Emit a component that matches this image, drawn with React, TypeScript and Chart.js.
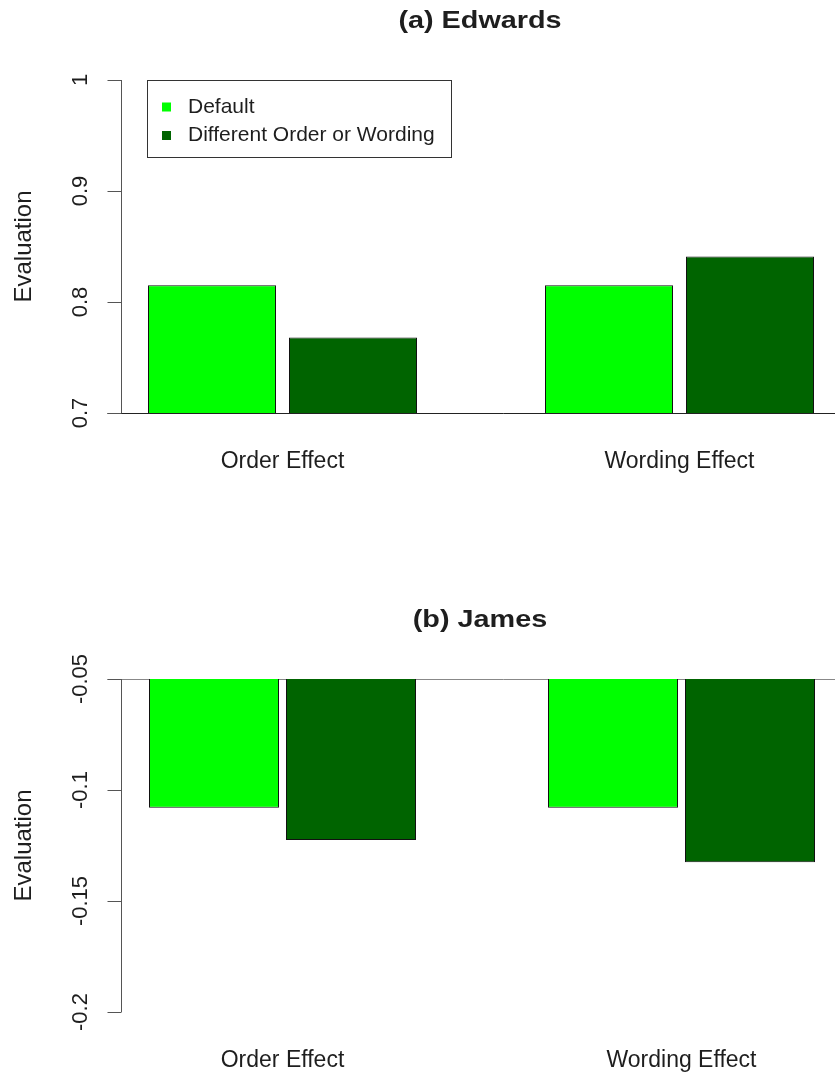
import React, { useEffect, useRef } from "react";
import { Chart, registerables } from "chart.js";

Chart.register(...registerables);

// ---------- data ----------
const categories = ["Order Effect", "Wording Effect"];
const seriesNames = ["Default", "Different Order or Wording"];
const seriesColors = ["#00FF00", "#006400"];

const edwardsDefault = [0.815, 0.815];
const edwardsDifferent = [0.768, 0.841];
const edwardsTicks = [0.7, 0.8, 0.9, 1];
const edwardsTickLabels = ["0.7", "0.8", "0.9", "1"];

const jamesDefault = [-0.108, -0.108];
const jamesDifferent = [-0.1225, -0.1325];
const jamesTicks = [-0.05, -0.1, -0.15, -0.2];
const jamesTickLabels = ["-0.05", "-0.1", "-0.15", "-0.2"];

const yAxisTitle = "Evaluation";

// ---------- styling ----------
const CANVAS_W = 900;
const FONT = "'Liberation Sans', Arial, Helvetica, sans-serif";
const TEXT_COLOR = "#1e1e1e";

const decorPlugin = {
  id: "decor",
  beforeDatasetsDraw(chart: any, _args: any, opts: any) {
    const ctx = chart.ctx;
    const ys = chart.scales.y;
    const yb = Math.round(ys.getPixelForValue(opts.baseValue)) + 0.5;
    ctx.save();
    ctx.strokeStyle = opts.baseColor;
    ctx.lineWidth = 1;
    ctx.beginPath();
    ctx.moveTo(opts.axisX - opts.tickLen, yb);
    ctx.lineTo(chart.width, yb);
    ctx.stroke();
    ctx.restore();
  },
  afterDraw(chart: any, _args: any, opts: any) {
    const ctx = chart.ctx;
    const xs = chart.scales.x;
    const ys = chart.scales.y;
    const area = chart.chartArea;
    ctx.save();

    // y axis line + ticks
    ctx.strokeStyle = "#555";
    ctx.lineWidth = 1;
    const ticks: number[] = opts.ticks;
    const py = ticks.map((t) => ys.getPixelForValue(t));
    ctx.beginPath();
    ctx.moveTo(opts.axisX, Math.min(...py));
    ctx.lineTo(opts.axisX, Math.max(...py));
    py.forEach((p) => {
      const yy = Math.round(p) + 0.5;
      ctx.moveTo(opts.axisX - opts.tickLen, yy);
      ctx.lineTo(opts.axisX, yy);
    });
    ctx.stroke();

    // tick labels (rotated)
    ctx.fillStyle = TEXT_COLOR;
    ctx.font = `22px ${FONT}`;
    ctx.textAlign = "center";
    ctx.textBaseline = "middle";
    py.forEach((p, i) => {
      ctx.save();
      ctx.translate(opts.tickLabelX, p);
      ctx.rotate(-Math.PI / 2);
      ctx.fillText(opts.tickLabels[i], 0, 0);
      ctx.restore();
    });

    // axis title
    ctx.font = `24px ${FONT}`;
    ctx.save();
    ctx.translate(opts.axisTitleX, (area.top + area.bottom) / 2);
    ctx.rotate(-Math.PI / 2);
    ctx.fillText(yAxisTitle, 0, 0);
    ctx.restore();

    // category names
    ctx.font = `23px ${FONT}`;
    ctx.textBaseline = "alphabetic";
    chart.data.labels.forEach((lab: string, i: number) => {
      ctx.fillText(lab, xs.getPixelForValue(i), area.bottom + 55);
    });

    // title (bold, slightly widened)
    ctx.font = `bold 24px ${FONT}`;
    ctx.save();
    ctx.translate(opts.titleX, area.top - 52);
    ctx.scale(1.2, 1);
    ctx.fillText(opts.title, 0, 0);
    ctx.restore();

    // legend
    if (opts.legend) {
      const lx = opts.legendLeft;
      const lt = area.top;
      ctx.strokeStyle = "#333";
      ctx.lineWidth = 1;
      ctx.strokeRect(lx + 0.5, lt + 0.5, 304, 77);
      ctx.font = `21px ${FONT}`;
      ctx.textAlign = "left";
      ctx.textBaseline = "middle";
      chart.data.datasets.forEach((ds: any, i: number) => {
        const cy = lt + 27 + i * 28.5;
        ctx.fillStyle = ds.backgroundColor;
        ctx.fillRect(lx + 15, cy - 4.5, 9, 9);
        ctx.fillStyle = TEXT_COLOR;
        ctx.fillText(ds.label, lx + 41, cy);
      });
    }
    ctx.restore();
  },
};

function makeConfig(p: any) {
  return {
    type: "bar",
    data: {
      labels: categories,
      datasets: [
        {
          label: seriesNames[0],
          data: p.def,
          backgroundColor: seriesColors[0],
          borderColor: "#111",
          borderWidth: 1,
          borderSkipped: false,
          categoryPercentage: p.cp,
          barPercentage: p.bp,
        },
        {
          label: seriesNames[1],
          data: p.diff,
          backgroundColor: seriesColors[1],
          borderColor: "#111",
          borderWidth: 1,
          borderSkipped: false,
          categoryPercentage: p.cp,
          barPercentage: p.bp,
        },
      ],
    },
    options: {
      responsive: false,
      animation: false,
      layout: {
        padding: {
          left: p.padLeft,
          right: CANVAS_W - p.padLeft - p.areaW,
          top: 80,
          bottom: p.height - 413,
        },
      },
      scales: {
        x: { type: "category", display: false, offset: true },
        y: { type: "linear", display: false, min: p.min, max: p.max },
      },
      plugins: {
        legend: { display: false },
        tooltip: { enabled: false },
        title: { display: false },
        decor: {
          title: p.title,
          ticks: p.ticks,
          tickLabels: p.tickLabels,
          baseValue: p.baseValue,
          baseColor: p.baseColor,
          axisX: 121.5,
          tickLen: 14,
          tickLabelX: 80.5,
          axisTitleX: 24,
          titleX: 480,
          legend: p.legend,
          legendLeft: 147,
        },
      },
    },
    plugins: [decorPlugin],
  };
}

function Panel({ top, height, params }: { top: number; height: number; params: any }) {
  const ref = useRef<HTMLCanvasElement>(null);
  useEffect(() => {
    const chart = new Chart(ref.current as HTMLCanvasElement, makeConfig({ ...params, height }) as any);
    return () => chart.destroy();
  }, []);
  return (
    <canvas
      ref={ref}
      width={CANVAS_W}
      height={height}
      style={{ position: "absolute", left: 0, top, width: CANVAS_W, height, display: "block" }}
    />
  );
}

export default function App() {
  useEffect(() => {
    document.body.style.margin = "0";
    document.body.style.overflow = "hidden";
  }, []);
  return (
    <div
      style={{
        position: "absolute",
        left: 0,
        top: 0,
        width: 835,
        height: 1072,
        overflow: "hidden",
        background: "#fff",
      }}
    >
      <Panel
        top={0}
        height={599}
        params={{
          title: "(a) Edwards",
          def: edwardsDefault,
          diff: edwardsDifferent,
          min: 0.7,
          max: 1,
          ticks: edwardsTicks,
          tickLabels: edwardsTickLabels,
          baseValue: 0.7,
          baseColor: "#222",
          padLeft: 84,
          areaW: 794,
          cp: 282 / 397,
          bp: 128 / 141,
          legend: true,
        }}
      />
      <Panel
        top={599}
        height={473}
        params={{
          title: "(b) James",
          def: jamesDefault,
          diff: jamesDifferent,
          min: -0.2,
          max: -0.05,
          ticks: jamesTicks,
          tickLabels: jamesTickLabels,
          baseValue: -0.05,
          baseColor: "#888",
          padLeft: 83,
          areaW: 798,
          cp: 274 / 399,
          bp: 130 / 137,
          legend: false,
        }}
      />
    </div>
  );
}
